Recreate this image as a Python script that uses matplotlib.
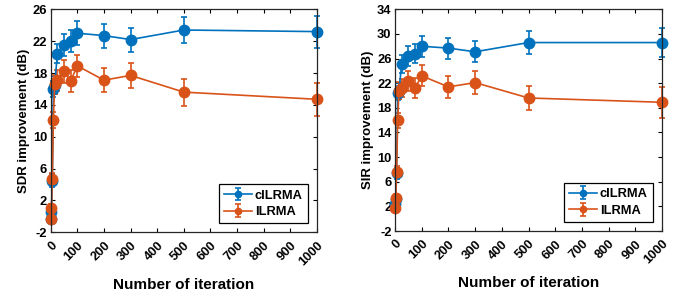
import numpy as np
import matplotlib
matplotlib.use("Agg")
import matplotlib.pyplot as plt

plt.rcParams['font.family'] = ['Liberation Sans', 'DejaVu Sans']
plt.rcParams['font.weight'] = 'bold'

# data
iters = [0, 3, 6, 10, 15, 25, 50, 75, 100, 200, 300, 500, 1000]

sdr_cilrma = [-0.3, 0.6, 4.5, 16.0, 16.5, 20.4, 21.5, 22.0, 23.0, 22.7, 22.2, 23.4, 23.2]
sdr_cilrma_err = [0.4, 0.5, 0.8, 1.0, 1.1, 1.2, 1.4, 1.4, 1.5, 1.5, 1.5, 1.6, 2.0]
sdr_ilrma = [-0.3, 1.1, 4.7, 12.1, 16.6, 17.1, 18.2, 17.0, 18.9, 17.1, 17.7, 15.6, 14.7]
sdr_ilrma_err = [0.4, 0.5, 0.8, 1.0, 1.2, 1.3, 1.4, 1.4, 1.4, 1.5, 1.6, 1.7, 2.1]

sir_cilrma = [2.4, 3.2, 7.4, 20.4, 20.8, 25.1, 26.4, 26.8, 28.0, 27.7, 27.1, 28.6, 28.6]
sir_cilrma_err = [0.5, 0.6, 0.9, 1.2, 1.3, 1.4, 1.6, 1.6, 1.7, 1.7, 1.7, 1.8, 2.4]
sir_ilrma = [1.7, 3.4, 7.6, 16.0, 20.8, 21.2, 22.4, 21.2, 23.2, 21.4, 22.1, 19.6, 18.9]
sir_ilrma_err = [0.5, 0.6, 0.9, 1.2, 1.4, 1.5, 1.6, 1.6, 1.7, 1.8, 1.9, 2.0, 2.5]

xticks = list(range(0, 1001, 100))
sdr_yticks = list(range(-2, 27, 4))
sir_yticks = list(range(-2, 35, 4))

BLUE = '#0072BD'
ORANGE = '#D95319'

fig = plt.figure(figsize=(6.89, 2.99), dpi=100)
W, H = 689, 299
ax1 = fig.add_axes([50.7 / W, 1 - 232.3 / H, (317 - 50.7) / W, (232.3 - 9.3) / H])
ax2 = fig.add_axes([395 / W, 1 - 231 / H, (662 - 395) / W, (231 - 9.3) / H])


def draw(ax, y1, e1, y2, e2, yticks, ylabel):
    kw = dict(marker='o', markersize=7.5, linewidth=1.2, capsize=2.5,
              elinewidth=1.2, capthick=1.2, clip_on=False)
    for y, e, c, lab in ((y1, e1, BLUE, 'cILRMA'), (y2, e2, ORANGE, 'ILRMA')):
        cont = ax.errorbar(iters, y, yerr=e, color=c, label=lab, **kw)
        for art in cont.lines[1] + cont.lines[2]:
            art.set_clip_on(False)
    ax.set_xlim(0, 1000)
    ax.set_ylim(yticks[0], yticks[-1])
    ax.set_xticks(xticks)
    ax.set_xticklabels([str(t) for t in xticks], rotation=45, ha='right',
                       rotation_mode='anchor', fontsize=9.3)
    ax.set_yticks(yticks)
    ax.set_yticklabels([str(t) for t in yticks], fontsize=9.3)
    ax.tick_params(direction='in', top=True, right=True, length=3, width=0.8,
                   pad=2.5)
    ax.tick_params(axis='x', pad=5)
    for s in ax.spines.values():
        s.set_linewidth(0.9)
        s.set_color('#262626')
    ax.set_xlabel('Number of iteration', fontsize=11, fontweight='bold',
                  labelpad=7)
    ax.set_ylabel(ylabel, fontsize=9.5, fontweight='bold', labelpad=2)
    leg = ax.legend(loc='lower right', fontsize=9.3, fancybox=False,
                    edgecolor='black', framealpha=1, borderpad=0.4,
                    handlelength=2.2, handletextpad=0.2, labelspacing=0.35,
                    borderaxespad=0.7, markerscale=0.6)
    leg.get_frame().set_linewidth(0.9)


draw(ax1, sdr_cilrma, sdr_cilrma_err, sdr_ilrma, sdr_ilrma_err,
     sdr_yticks, 'SDR improvement (dB)')
draw(ax2, sir_cilrma, sir_cilrma_err, sir_ilrma, sir_ilrma_err,
     sir_yticks, 'SIR improvement (dB)')

fig.savefig('out.png', dpi=100)
